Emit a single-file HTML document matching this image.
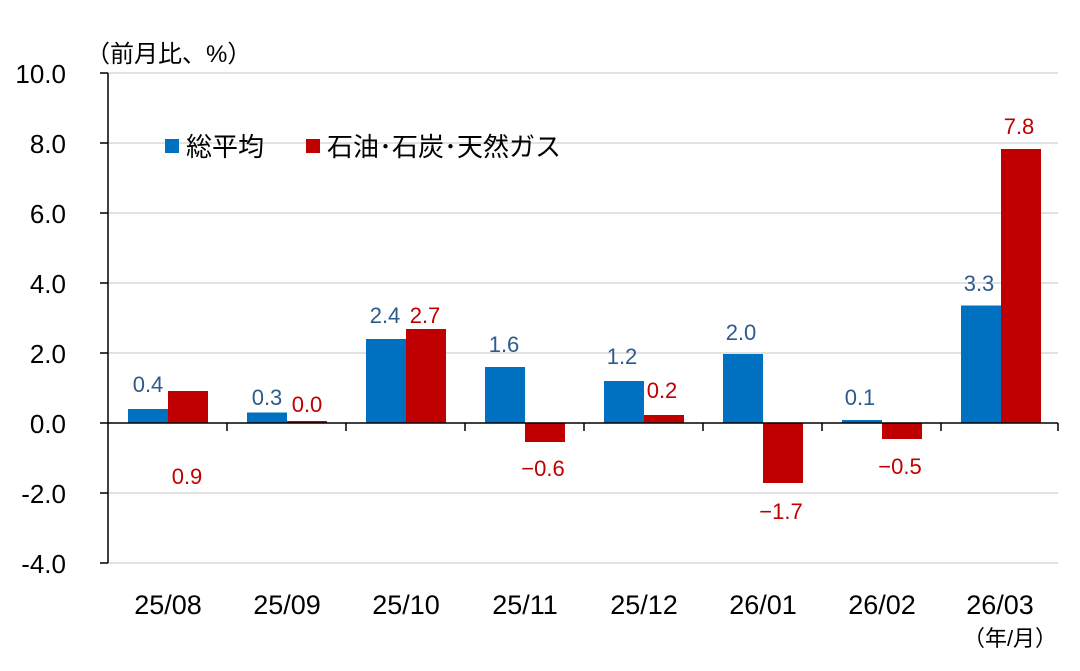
<!DOCTYPE html>
<html><head><meta charset="utf-8"><style>
body{margin:0;background:#fff}
svg text{font-family:"Liberation Sans","Noto Sans CJK JP",sans-serif}
</style></head><body>
<svg width="1080" height="666" viewBox="0 0 1080 666">
<g stroke="#d9d9d9" stroke-width="1.5">
<line x1="108" y1="73" x2="1058" y2="73"/><line x1="108" y1="143" x2="1058" y2="143"/>
<line x1="108" y1="213" x2="1058" y2="213"/><line x1="108" y1="283" x2="1058" y2="283"/>
<line x1="108" y1="353" x2="1058" y2="353"/><line x1="108" y1="493" x2="1058" y2="493"/>
<line x1="108" y1="563" x2="1058" y2="563"/>
</g>
<g fill="#0070c0">
<rect x="128" y="409" width="40" height="14"/><rect x="247" y="412.5" width="40" height="10.5"/>
<rect x="366" y="339" width="40" height="84"/><rect x="485" y="367" width="40" height="56"/>
<rect x="604" y="381" width="40" height="42"/><rect x="723" y="354" width="40" height="69"/>
<rect x="842" y="420" width="40" height="3"/><rect x="961" y="305.5" width="40" height="117.5"/>
</g>
<g fill="#c00000">
<rect x="168" y="391" width="40" height="32"/><rect x="287" y="421" width="40" height="2"/>
<rect x="406" y="329" width="40" height="94"/><rect x="525" y="423" width="40" height="19"/>
<rect x="644" y="415" width="40" height="8"/><rect x="763" y="423" width="40" height="60"/>
<rect x="882" y="423" width="40" height="16"/><rect x="1001" y="149" width="40" height="274"/>
</g>
<g stroke="#000" stroke-width="1.5">
<line x1="108" y1="73" x2="108" y2="563"/>
<line x1="108" y1="423" x2="1058" y2="423"/>
<line x1="100" y1="73" x2="108" y2="73"/><line x1="100" y1="143" x2="108" y2="143"/>
<line x1="100" y1="213" x2="108" y2="213"/><line x1="100" y1="283" x2="108" y2="283"/>
<line x1="100" y1="353" x2="108" y2="353"/><line x1="100" y1="423" x2="108" y2="423"/>
<line x1="100" y1="493" x2="108" y2="493"/><line x1="100" y1="563" x2="108" y2="563"/>
<line x1="227" y1="423" x2="227" y2="431"/><line x1="346" y1="423" x2="346" y2="431"/>
<line x1="465" y1="423" x2="465" y2="431"/><line x1="584" y1="423" x2="584" y2="431"/>
<line x1="703" y1="423" x2="703" y2="431"/><line x1="822" y1="423" x2="822" y2="431"/>
<line x1="941" y1="423" x2="941" y2="431"/><line x1="1058" y1="423" x2="1058" y2="431"/>
</g>
<g font-size="26" text-anchor="end" fill="#000">
<text x="66" y="83">10.0</text><text x="66" y="153">8.0</text><text x="66" y="223">6.0</text>
<text x="66" y="293">4.0</text><text x="66" y="363">2.0</text><text x="66" y="433">0.0</text>
<text x="66" y="503">-2.0</text><text x="66" y="573">-4.0</text>
</g>
<text x="86" y="62" font-size="24" fill="#000">（前月比、%）</text>
<g font-size="27" text-anchor="middle" fill="#000">
<text x="168" y="614">25/08</text><text x="287" y="614">25/09</text><text x="406" y="614">25/10</text>
<text x="525" y="614">25/11</text><text x="644" y="614">25/12</text><text x="763" y="614">26/01</text>
<text x="882" y="614">26/02</text><text x="1000" y="614">26/03</text>
</g>
<text x="1010" y="646" font-size="22" text-anchor="middle" fill="#000">（年/月）</text>
<rect x="165" y="139" width="14" height="14" fill="#0070c0"/>
<text x="186" y="156" font-size="26" fill="#000">総平均</text>
<rect x="306" y="139" width="14" height="14" fill="#c00000"/>
<text x="327" y="156" font-size="26" fill="#000">石油･石炭･天然ガス</text>
<g font-size="22" text-anchor="middle" fill="#2e5a8c">
<text x="148" y="392">0.4</text><text x="267" y="405">0.3</text><text x="385" y="323">2.4</text>
<text x="504" y="352">1.6</text><text x="622" y="364">1.2</text><text x="741" y="340">2.0</text>
<text x="860" y="405">0.1</text><text x="979" y="291">3.3</text>
</g>
<g font-size="22" text-anchor="middle" fill="#c00000">
<text x="187" y="484">0.9</text><text x="307" y="412">0.0</text><text x="425" y="323">2.7</text>
<text x="543" y="476">−0.6</text><text x="662" y="398">0.2</text><text x="781" y="519">−1.7</text>
<text x="900" y="474">−0.5</text><text x="1019" y="134">7.8</text>
</g>
</svg>
</body></html>
